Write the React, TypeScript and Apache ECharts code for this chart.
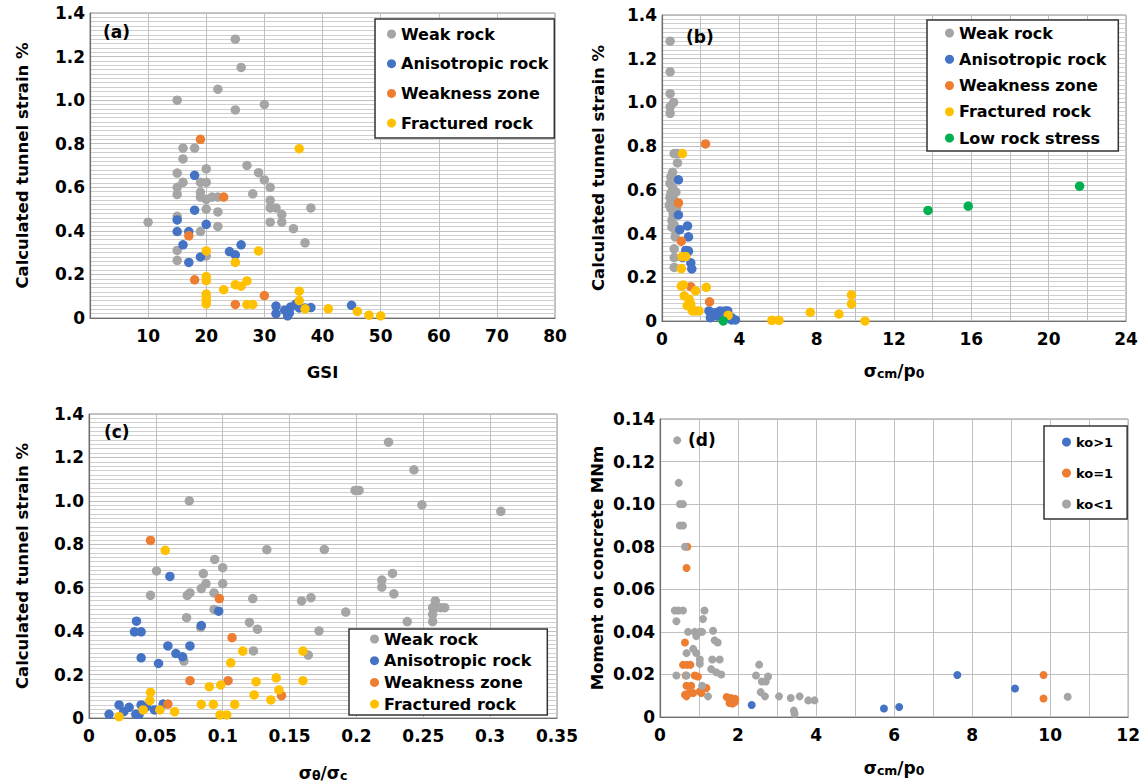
import React, { useEffect, useRef } from "react";
import * as echarts from "echarts";

// ---------- Panel (a): GSI vs calculated tunnel strain % ----------
const aWeakRock = [
  [25, 1.28], [26, 1.15], [22, 1.05], [15, 1.0], [25, 0.955], [30, 0.98],
  [16, 0.78], [18, 0.78], [16, 0.73], [15, 0.665], [20, 0.685], [27, 0.7], [29, 0.667], [30, 0.634], [31, 0.6],
  [16, 0.623], [15, 0.6], [15, 0.567], [19, 0.623], [20, 0.623], [19, 0.577], [19, 0.555], [20, 0.545], [21, 0.555], [22, 0.555],
  [28, 0.57], [31, 0.54], [31, 0.505], [32, 0.505], [33, 0.475], [33, 0.44], [31, 0.44], [38, 0.505], [35, 0.41], [37, 0.345],
  [20, 0.5], [22, 0.487], [22, 0.42], [10, 0.44], [15, 0.467], [19, 0.397], [15, 0.31], [15, 0.265], [20, 0.285],
];
const aAnisotropic = [
  [18, 0.655], [18, 0.495], [15, 0.45], [15, 0.397], [17, 0.397], [20, 0.43], [16, 0.336], [17, 0.255], [19, 0.28],
  [24, 0.305], [25, 0.29], [26, 0.336], [32, 0.055], [32, 0.02], [33.5, 0.036], [34, 0.01], [34.5, 0.05], [35.4, 0.064],
  [36, 0.046], [37, 0.046], [38, 0.048], [34.3, 0.023], [45, 0.058],
];
const aWeakness = [[19, 0.82], [23, 0.555], [17, 0.377], [18, 0.175], [30, 0.103], [25, 0.062]];
const aFractured = [
  [36, 0.777], [20, 0.308], [29, 0.308], [25, 0.255], [20, 0.19], [20, 0.172], [25, 0.153], [26, 0.146], [27, 0.17],
  [23, 0.13], [20, 0.11], [20, 0.095], [20, 0.08], [20, 0.065], [27, 0.062], [28, 0.062], [36, 0.123], [36, 0.08],
  [37, 0.042], [41, 0.042], [46, 0.03], [48, 0.013], [50, 0.01],
];

// ---------- Panel (b): σcm/p0 vs calculated tunnel strain % ----------
const bWeakRock = [
  [0.42, 1.28], [0.42, 1.14], [0.42, 1.04], [0.6, 1.0], [0.42, 0.98], [0.42, 0.95], [0.63, 0.766], [0.8, 0.766],
  [0.8, 0.723], [0.55, 0.68], [0.46, 0.66], [0.41, 0.63], [0.55, 0.61], [0.72, 0.59], [0.46, 0.585], [0.41, 0.565],
  [0.58, 0.56], [0.55, 0.54], [0.38, 0.53], [0.46, 0.515], [0.75, 0.515], [0.58, 0.49], [0.51, 0.46], [0.51, 0.43],
  [0.63, 0.44], [0.72, 0.41], [0.68, 0.385], [0.63, 0.33], [0.63, 0.29], [0.63, 0.245],
];
const bAnisotropic = [
  [0.85, 0.646], [0.85, 0.485], [1.32, 0.435], [0.92, 0.418], [1.37, 0.385], [1.23, 0.323], [1.37, 0.32], [1.06, 0.29],
  [1.49, 0.266], [1.54, 0.238], [2.43, 0.046], [2.6, 0.023], [2.77, 0.038], [3.0, 0.046], [3.28, 0.046], [3.4, 0.046],
  [2.85, 0.023], [3.2, 0.026], [3.6, 0.005], [3.8, 0.005], [3.6, 0.015], [2.5, 0.015],
];
const bWeakness = [[2.25, 0.81], [0.85, 0.54], [1.0, 0.365], [1.49, 0.157], [2.46, 0.088]];
const bFractured = [
  [1.06, 0.766], [1.03, 0.295], [1.23, 0.295], [1.0, 0.24], [1.0, 0.16], [1.1, 0.165], [1.74, 0.138], [2.29, 0.154],
  [1.15, 0.115], [1.4, 0.1], [1.3, 0.07], [1.49, 0.077], [1.57, 0.046], [1.74, 0.046], [1.91, 0.046], [3.42, 0.026],
  [5.68, 0.003], [6.05, 0.003], [7.67, 0.04], [9.15, 0.032], [9.8, 0.12], [9.8, 0.078], [10.5, 0.0],
];
const bLowStress = [[3.17, 0.0], [13.76, 0.506], [15.84, 0.526], [21.6, 0.617]];

// ---------- Panel (c): σθ/σc vs calculated tunnel strain % ----------
const cWeakRock = [
  [0.0505, 0.677], [0.046, 0.565], [0.094, 0.73], [0.1, 0.692], [0.0855, 0.665], [0.0875, 0.619], [0.1, 0.619],
  [0.084, 0.596], [0.0935, 0.576], [0.0755, 0.576], [0.0735, 0.565], [0.073, 0.462], [0.0835, 0.417], [0.0935, 0.5],
  [0.1225, 0.55], [0.12, 0.44], [0.126, 0.409], [0.123, 0.309], [0.071, 0.262], [0.133, 0.775], [0.075, 1.0],
  [0.176, 0.776], [0.224, 1.27], [0.243, 1.143], [0.199, 1.048], [0.202, 1.048], [0.249, 0.982], [0.308, 0.952],
  [0.227, 0.666], [0.219, 0.635], [0.219, 0.603], [0.228, 0.572], [0.159, 0.539], [0.166, 0.554], [0.192, 0.488],
  [0.172, 0.401], [0.164, 0.29], [0.238, 0.444], [0.259, 0.539], [0.257, 0.508], [0.257, 0.477], [0.257, 0.444],
  [0.26, 0.51], [0.263, 0.508], [0.266, 0.508],
];
const cAnisotropic = [
  [0.0605, 0.652], [0.0355, 0.446], [0.034, 0.397], [0.039, 0.397], [0.039, 0.277], [0.052, 0.251], [0.059, 0.332],
  [0.065, 0.297], [0.07, 0.282], [0.0755, 0.332], [0.084, 0.426], [0.097, 0.492], [0.015, 0.017], [0.0225, 0.06],
  [0.026, 0.029], [0.03, 0.049], [0.035, 0.017], [0.0375, 0.017], [0.039, 0.06], [0.043, 0.052], [0.049, 0.037],
  [0.0555, 0.064],
];
const cWeakness = [[0.046, 0.818], [0.0975, 0.55], [0.107, 0.37], [0.0755, 0.172], [0.104, 0.172], [0.144, 0.103], [0.059, 0.064]];
const cFractured = [
  [0.057, 0.772], [0.115, 0.308], [0.106, 0.254], [0.16, 0.308], [0.16, 0.172], [0.09, 0.144], [0.0985, 0.152],
  [0.125, 0.167], [0.14, 0.185], [0.142, 0.129], [0.1235, 0.106], [0.136, 0.083], [0.046, 0.118], [0.0455, 0.08],
  [0.084, 0.063], [0.093, 0.063], [0.109, 0.063], [0.0405, 0.037], [0.053, 0.037], [0.064, 0.029], [0.0225, 0.006],
  [0.098, 0.014], [0.103, 0.014],
];

// ---------- Panel (d): σcm/p0 vs moment on concrete MNm ----------
const dKoGt1 = [[2.35, 0.0056], [5.74, 0.004], [6.13, 0.0047], [7.62, 0.0197], [9.1, 0.0134]];
const dKoEq1 = [
  [0.7, 0.08], [0.68, 0.07], [0.64, 0.035], [0.59, 0.0245], [0.69, 0.0245], [0.78, 0.0245], [0.66, 0.0195],
  [0.89, 0.0195], [0.97, 0.019], [0.68, 0.0147], [0.8, 0.0147], [0.64, 0.0105], [0.75, 0.0113], [0.85, 0.0113],
  [0.68, 0.0097], [1.02, 0.012], [1.19, 0.0136], [1.06, 0.0113], [1.71, 0.0094], [1.82, 0.0089], [1.93, 0.0085],
  [1.78, 0.0066], [1.86, 0.0063], [1.92, 0.007], [9.83, 0.0197], [9.83, 0.0087],
];
const dKoLt1 = [
  [0.44, 0.13], [0.48, 0.11], [0.51, 0.1], [0.59, 0.1], [0.51, 0.09], [0.59, 0.09], [0.64, 0.08], [0.38, 0.05],
  [0.47, 0.05], [0.59, 0.05], [0.42, 0.045], [1.14, 0.05], [1.1, 0.046], [0.72, 0.04], [0.89, 0.04], [1.02, 0.04],
  [1.08, 0.04], [0.93, 0.038], [1.36, 0.0405], [1.4, 0.036], [1.48, 0.035], [0.68, 0.03], [0.85, 0.032], [0.93, 0.03],
  [1.02, 0.027], [1.02, 0.025], [1.34, 0.027], [1.53, 0.027], [1.31, 0.0225], [1.44, 0.021], [1.57, 0.02],
  [0.42, 0.0195], [0.68, 0.0195], [1.08, 0.0147], [1.23, 0.0097], [2.54, 0.0246], [2.46, 0.0195], [2.61, 0.0167],
  [2.71, 0.0167], [2.77, 0.019], [2.58, 0.0117], [2.69, 0.0097], [3.05, 0.0097], [3.35, 0.0089], [3.58, 0.0097],
  [3.43, 0.003], [3.45, 0.0015], [3.8, 0.0078], [3.96, 0.0078], [10.45, 0.0095],
];

const rockNames = ["Weak rock", "Anisotropic rock", "Weakness zone", "Fractured rock"];
const bNames = [...rockNames, "Low rock stress"];
const dNames = ["ko>1", "ko=1", "ko<1"];

const GRAY = "#A5A5A5";
const BLUE = "#4472C4";
const ORANGE = "#ED7D31";
const YELLOW = "#FFC000";
const GREEN = "#00B050";
const FONT = "DejaVu Sans";

const tickText = { fontFamily: FONT, fontWeight: "bold" as const, fontSize: 17, color: "#000" };
const nameText = { fontFamily: FONT, fontWeight: "bold" as const, fontSize: 16.5, color: "#000" };
const ratioRich = {
  a: { fontFamily: FONT, fontWeight: "bold", fontSize: 17, color: "#000" },
  b: { fontFamily: FONT, fontWeight: "bold", fontSize: 12.5, color: "#000", padding: [6, 0, 0, 0] },
};

function xAxis(gridIndex: number, max: number, interval: number, fmt: (v: number) => string, name: string, nameGap: number, rich?: any) {
  return {
    type: "value", gridIndex, min: 0, max, interval, name, nameLocation: "middle", nameGap,
    nameTextStyle: rich ? { ...nameText, rich } : nameText,
    axisLine: { show: true, lineStyle: { color: "#6e6e6e", width: 1.2 } },
    axisTick: { show: false },
    axisLabel: { ...tickText, margin: 9, formatter: fmt },
    splitLine: { show: true, lineStyle: { color: "#bfbfbf", width: 1 } },
  };
}
function yAxis(gridIndex: number, max: number, interval: number, fmt: (v: number) => string, name: string, nameGap: number, minor: number) {
  return {
    type: "value", gridIndex, min: 0, max, interval, name, nameLocation: "middle", nameGap, nameRotate: 90,
    nameTextStyle: nameText,
    axisLine: { show: true, lineStyle: { color: "#6e6e6e", width: 1.2 } },
    axisTick: { show: false },
    axisLabel: { ...tickText, margin: 5, formatter: fmt },
    splitLine: { show: true, lineStyle: { color: "#bfbfbf", width: 1 } },
    minorTick: { show: false, splitNumber: minor || 5 },
    minorSplitLine: { show: minor > 0, lineStyle: { color: "#cfcfcf", width: 1 } },
  };
}
const strainFmt = (v: number) => (v === 0 ? "0" : v.toFixed(1));

function scatter(name: string, idx: number, data: number[][], color: string, size: number) {
  return {
    type: "scatter", name, xAxisIndex: idx, yAxisIndex: idx, data, symbol: "circle", symbolSize: size,
    itemStyle: { color, opacity: 1 }, emphasis: { disabled: true },
  };
}

function legend(data: string[], left: number, top: number, padding: number[], gap: number, fontSize: number, lineHeight: number) {
  return {
    data, left, top, orient: "vertical", padding, itemGap: gap, itemWidth: 9, itemHeight: 9, icon: "circle",
    borderColor: "#333", borderWidth: 1.5, backgroundColor: "#fff", selectedMode: false,
    textStyle: { fontFamily: FONT, fontWeight: "bold", fontSize, color: "#000", lineHeight },
  };
}

function panelLabel(text: string, left: number, top: number) {
  return {
    type: "text", left, top, z: 100,
    style: { text, fontSize: 17, fontWeight: "bold", fontFamily: FONT, fill: "#000" },
  };
}

export default function App() {
  const ref = useRef<HTMLDivElement>(null);
  useEffect(() => {
    if (!ref.current) return;
    const chart = echarts.init(ref.current, undefined, { renderer: "svg" });
    const size = 9.5;
    chart.setOption({
      animation: false,
      backgroundColor: "#fff",
      grid: [
        { left: 90, top: 13, width: 465, height: 305, show: true, borderColor: "#8a8a8a", borderWidth: 1 },
        { left: 662, top: 15, width: 464, height: 306, show: true, borderColor: "#8a8a8a", borderWidth: 1 },
        { left: 89, top: 414, width: 468, height: 304, show: true, borderColor: "#8a8a8a", borderWidth: 1 },
        { left: 660, top: 419, width: 473, height: 298, show: true, borderColor: "#8a8a8a", borderWidth: 1 },
      ],
      xAxis: [
        xAxis(0, 80, 10, (v) => (v === 0 ? "" : String(v)), "GSI", 46),
        xAxis(1, 24, 2, (v) => (v % 4 === 0 ? String(v) : ""), "{a|σ}{b|cm}{a|/p}{b|0}", 40, ratioRich),
        xAxis(2, 0.35, 0.05, (v) => (v === 0 ? "0" : String(+v.toFixed(2))), "{a|σ}{b|θ}{a|/σ}{b|c}", 45, ratioRich),
        xAxis(3, 12, 1, (v) => (v % 2 === 0 ? String(v) : ""), "{a|σ}{b|cm}{a|/p}{b|0}", 41, ratioRich),
      ],
      yAxis: [
        yAxis(0, 1.4, 0.2, strainFmt, "Calculated tunnel strain %", 59, 10),
        yAxis(1, 1.4, 0.2, strainFmt, "Calculated tunnel strain %", 55, 10),
        yAxis(2, 1.4, 0.2, strainFmt, "Calculated tunnel strain %", 58, 10),
        yAxis(3, 0.14, 0.02, (v) => (v === 0 ? "0" : v.toFixed(2)), "Moment on concrete MNm", 54, 0),
      ],
      legend: [
        legend(rockNames, 375, 19, [6, 6, 6, 12], 11.7, 16, 18),
        legend(bNames, 927, 20, [4, 12, 4, 18], 8.25, 16, 18),
        legend(rockNames, 349, 629, [1, 16, 2, 21], 3.7, 16, 18),
        legend(dNames, 1044, 426, [8, 14, 7, 18], 15, 13, 16),
      ],
      graphic: [
        panelLabel("(a)", 103, 23),
        panelLabel("(b)", 686, 28),
        panelLabel("(c)", 104, 423),
        panelLabel("(d)", 688, 431),
      ],
      series: [
        scatter("Weak rock", 0, aWeakRock, GRAY, size),
        scatter("Anisotropic rock", 0, aAnisotropic, BLUE, size),
        scatter("Weakness zone", 0, aWeakness, ORANGE, size),
        scatter("Fractured rock", 0, aFractured, YELLOW, size),
        scatter("Weak rock", 1, bWeakRock, GRAY, size),
        scatter("Anisotropic rock", 1, bAnisotropic, BLUE, size),
        scatter("Weakness zone", 1, bWeakness, ORANGE, size),
        scatter("Fractured rock", 1, bFractured, YELLOW, size),
        scatter("Low rock stress", 1, bLowStress, GREEN, size),
        scatter("Weak rock", 2, cWeakRock, GRAY, size),
        scatter("Anisotropic rock", 2, cAnisotropic, BLUE, size),
        scatter("Weakness zone", 2, cWeakness, ORANGE, size),
        scatter("Fractured rock", 2, cFractured, YELLOW, size),
        scatter("ko>1", 3, dKoGt1, BLUE, 8),
        scatter("ko=1", 3, dKoEq1, ORANGE, 8),
        scatter("ko<1", 3, dKoLt1, GRAY, 8),
      ],
    });
    return () => chart.dispose();
  }, []);
  return <div ref={ref} style={{ position: "fixed", left: 0, top: 0, width: 1143, height: 783, background: "#fff" }} />;
}
